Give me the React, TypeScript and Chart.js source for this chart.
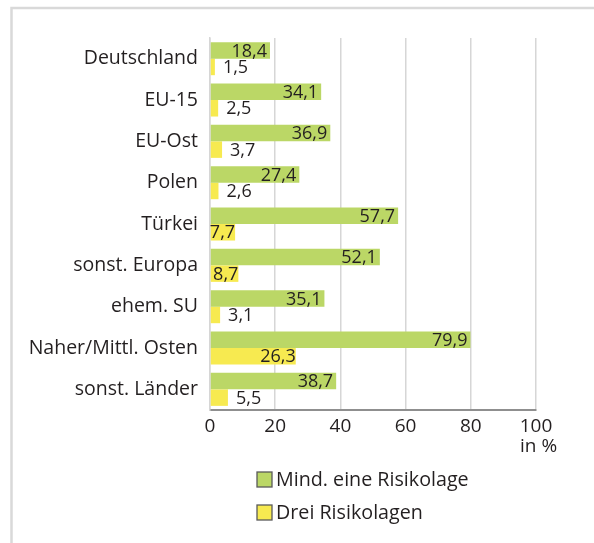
import React, { useEffect, useRef } from 'react';
import { Chart, registerables } from 'chart.js';

Chart.register(...registerables);

const categories = [
  'Deutschland',
  'EU-15',
  'EU-Ost',
  'Polen',
  'Türkei',
  'sonst. Europa',
  'ehem. SU',
  'Naher/Mittl. Osten',
  'sonst. Länder',
];
const mindEineRisikolage = [18.4, 34.1, 36.9, 27.4, 57.7, 52.1, 35.1, 79.9, 38.7];
const dreiRisikolagen = [1.5, 2.5, 3.7, 2.6, 7.7, 8.7, 3.1, 26.3, 5.5];
const seriesNames = ['Mind. eine Risikolage', 'Drei Risikolagen'];
const xMin = 0;
const xMax = 100;
const xStep = 20;
const unitLabel = 'in %';

const FONT = '"Open Sans", "Noto Sans", sans-serif';
const TEXT = '#231f20';
const GREEN = '#bbd766';
const YELLOW = '#f7ea50';
const GRID = '#d6d6d6';

const fmt = (v: number) => v.toFixed(1).replace('.', ',');

const framePlugin = {
  id: 'frame',
  beforeDraw(chart: any) {
    const ctx = chart.ctx;
    ctx.save();
    ctx.strokeStyle = '#d9d9d9';
    ctx.lineWidth = 2.5;
    ctx.beginPath();
    ctx.moveTo(11.5, chart.height);
    ctx.lineTo(11.5, 8);
    ctx.lineTo(chart.width, 8);
    ctx.stroke();
    ctx.restore();
  },
};

const valueLabelPlugin = {
  id: 'valueLabels',
  afterDatasetsDraw(chart: any) {
    const ctx = chart.ctx;
    ctx.save();
    ctx.font = `18px ${FONT}`;
    ctx.fillStyle = TEXT;
    ctx.textBaseline = 'middle';
    chart.data.datasets.forEach((ds: any, di: number) => {
      const meta = chart.getDatasetMeta(di);
      meta.data.forEach((bar: any, i: number) => {
        const v = ds.data[i];
        const txt = fmt(v);
        const len = bar.x - bar.base;
        if (len >= 22) {
          ctx.textAlign = 'right';
          ctx.fillText(txt, bar.x - (di === 0 ? 3 : 0), bar.y + 1);
        } else {
          ctx.textAlign = 'left';
          ctx.fillText(txt, bar.x + 8, bar.y + 1);
        }
      });
    });
    ctx.restore();
  },
};

const extrasPlugin = {
  id: 'extras',
  afterDraw(chart: any) {
    const ctx = chart.ctx;
    const xs = chart.scales.x;
    ctx.save();
    ctx.fillStyle = TEXT;
    ctx.font = `19px ${FONT}`;
    ctx.textBaseline = 'middle';
    ctx.textAlign = 'left';
    ctx.fillText(unitLabel, xs.getPixelForValue(xMax) - 16, 447);

    // legend (vertical, two rows)
    const rows = [
      { y: 472, color: chart.data.datasets[0].backgroundColor, label: chart.data.datasets[0].label },
      { y: 505, color: chart.data.datasets[1].backgroundColor, label: chart.data.datasets[1].label },
    ];
    ctx.font = `19.7px ${FONT}`;
    rows.forEach((r) => {
      ctx.fillStyle = r.color;
      ctx.fillRect(257, r.y, 15, 15);
      ctx.strokeStyle = '#5a5a5a';
      ctx.lineWidth = 1.3;
      ctx.strokeRect(257, r.y, 15, 15);
      ctx.fillStyle = TEXT;
      ctx.fillText(r.label, 276, r.y + 8);
    });
    ctx.restore();
  },
};

export default function App() {
  const ref = useRef<HTMLCanvasElement | null>(null);

  useEffect(() => {
    if (!ref.current) return;
    const chart = new Chart(ref.current, {
      type: 'bar',
      data: {
        labels: categories,
        datasets: [
          {
            label: seriesNames[0],
            data: mindEineRisikolage,
            backgroundColor: GREEN,
            barPercentage: 1,
            categoryPercentage: 0.8,
          },
          {
            label: seriesNames[1],
            data: dreiRisikolagen,
            backgroundColor: YELLOW,
            barPercentage: 1,
            categoryPercentage: 0.8,
          },
        ],
      },
      options: {
        indexAxis: 'y',
        animation: false,
        responsive: false,
        maintainAspectRatio: false,
        layout: { padding: { left: 0, top: 38, right: 58, bottom: 0 } },
        plugins: {
          legend: { display: false },
          tooltip: { enabled: false },
          title: { display: false },
        },
        scales: {
          x: {
            type: 'linear',
            position: 'bottom',
            min: xMin,
            max: xMax,
            ticks: {
              stepSize: xStep,
              color: TEXT,
              font: { family: FONT, size: 19 },
              padding: 5,
              maxRotation: 0,
            },
            grid: { color: GRID, lineWidth: 1.5, drawTicks: false },
            border: { color: '#8f8f8f', width: 2 },
            afterFit: (s: any) => {
              s.height = 133;
            },
          },
          y: {
            type: 'category',
            ticks: {
              color: TEXT,
              font: { family: FONT, size: 19.5 },
              padding: 12,
            },
            grid: { display: false, drawTicks: false },
            border: { color: GRID, width: 1.5 },
            afterFit: (s: any) => {
              s.width = 210;
            },
          },
        },
      },
      plugins: [framePlugin, valueLabelPlugin, extrasPlugin],
    } as any);
    return () => chart.destroy();
  }, []);

  return (
    <div
      style={{
        position: 'fixed',
        left: 0,
        top: 0,
        width: 594,
        height: 543,
        background: '#ffffff',
      }}
    >
      <canvas ref={ref} width={594} height={543} style={{ display: 'block' }} />
    </div>
  );
}
